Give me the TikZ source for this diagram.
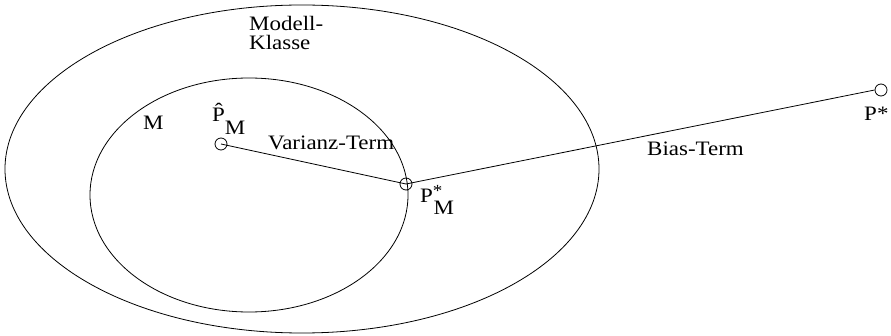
\documentclass[tikz,border=0pt]{standalone}
\usepackage{fontspec}
\setmainfont{Liberation Serif}
\begin{document}
\begin{tikzpicture}[x=1pt,y=-1pt,
  lbl/.style={inner sep=0pt,font=\fontsize{20.5}{20.5}\selectfont,text=black,xscale=1.12},
  pt/.style={circle,draw,thick,minimum size=12pt,inner sep=0pt},
  ln/.style={draw,thick}]
\useasboundingbox (0,0) rectangle (891,336);
\draw[thick] (302,169) ellipse [x radius=297, y radius=164];
\draw[thick] (249,195) ellipse [x radius=159, y radius=117];
\node[pt] (ph) at (221,144) {};
\node[pt] (pm) at (406,184) {};
\node[pt] (ps) at (881,90) {};
\draw[ln] (ph.center) -- (pm.center);
\draw[ln] (pm.center) -- (ps.west);
\node[lbl,align=left,anchor=base west] (mk) at (249,50) {Modell-\\[-1.5pt]Klasse};
\node[lbl,anchor=base west] (m) at (143,130) {M};
\node[lbl,anchor=base west] (phl) at (212,122) {\^{P}\raisebox{-13pt}{M}};
\node[lbl,anchor=base west] (vt) at (268,150) {Varianz-Term};
\node[lbl,anchor=base west] (bt) at (647,156) {Bias-Term};
\node[lbl,anchor=base west] (pml) at (420,203) {P\raisebox{6pt}{\fontsize{17}{17}\selectfont *}\kern-8pt\raisebox{-12pt}{M}};
\node[lbl,anchor=base west] (psl) at (864,121) {P*};
\end{tikzpicture}
\end{document}
